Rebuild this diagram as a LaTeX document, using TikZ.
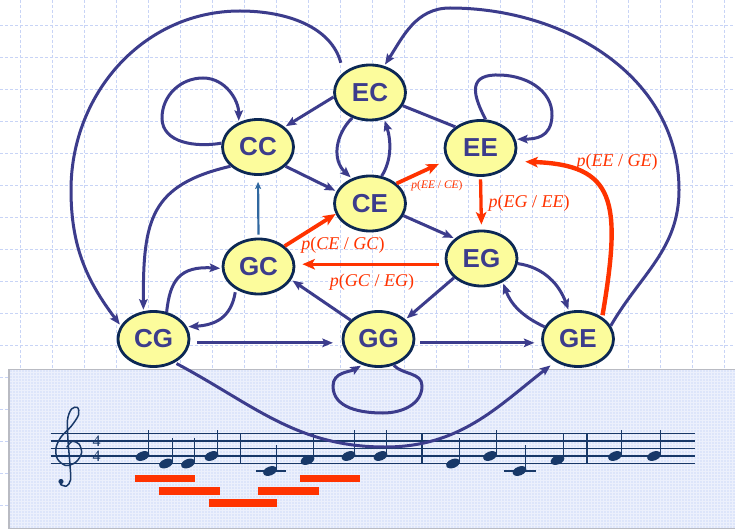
\documentclass[tikz,border=0pt]{standalone}
\usepackage{fontspec}
\setmainfont{Liberation Serif}
\newfontfamily\statefont{Liberation Sans}
\usetikzlibrary{shapes.geometric,arrows.meta}

\definecolor{edgeblue}{RGB}{60,60,140}
\definecolor{nodeborder}{RGB}{12,40,84}
\definecolor{nodefill}{RGB}{252,252,156}
\definecolor{statetext}{RGB}{60,60,140}
\definecolor{probred}{RGB}{255,51,0}
\definecolor{gridblue}{RGB}{200,212,246}
\definecolor{staffblue}{RGB}{24,56,104}
\definecolor{boxfill}{RGB}{221,229,250}
\definecolor{boxline}{RGB}{185,187,195}
\definecolor{linkblue}{RGB}{48,104,160}

% conditional probability label p(A / B)
\newcommand{\pcond}[2]{\textit{p}(\textit{#1}\ /\ \textit{#2})}

\tikzset{
  state/.style={ellipse, draw=nodeborder, line width=2.8pt, fill=nodefill,
    minimum width=71pt, minimum height=55pt, inner sep=0pt, text=statetext,
    font=\statefont\bfseries\fontsize{26}{26}\selectfont},
  trans/.style={draw=edgeblue, line width=3pt, shorten >=1.5pt,
    -{Stealth[length=10.5pt,width=8.5pt,inset=2pt]}},
  plainlink/.style={draw=edgeblue, line width=3pt},
  hot/.style={draw=probred, line width=3.8pt,
    -{Stealth[length=12.5pt,width=10.5pt,inset=3pt]}},
  plabel/.style={text=probred, inner sep=0pt, font=\fontsize{18}{18}\selectfont},
  gridline/.style={draw=gridblue, line width=0.9pt, dash pattern=on 3pt off 2pt},
  staffline/.style={draw=staffblue, line width=1.4pt},
  redbar/.style={fill=probred},
  timesig/.style={text=staffblue, inner sep=0pt, font=\fontsize{16}{16}\selectfont},
}

% quarter note with stem up, head centred at (#1, -#2)
\newcommand{\staffnote}[2]{%
  \fill[staffblue, rotate around={22:(#1,-#2)}] (#1,-#2) ellipse [x radius=7.2, y radius=4.4];
  \draw[staffblue, line width=1.3pt] (#1+6.3,-#2+1.5) -- (#1+6.3,-#2+26);}

\begin{document}
\begin{tikzpicture}[x=1pt,y=1pt]
\useasboundingbox (0,0) rectangle (735,-529);
\fill[white] (0,0) rectangle (735,-529);

% background grid
\foreach \k in {0,...,22} { \draw[gridline] ({20.5+32*\k},0) -- ({20.5+32*\k},-529); }
\foreach \k in {0,...,16} { \draw[gridline] (0,{-25.8-32*\k}) -- (735,{-25.8-32*\k}); }

% music panel
\fill[boxfill] (9,-369.5) rectangle (745,-528.3);
\draw[white, opacity=0.45, line width=0.5pt, step=3] (9,-369.5) grid (745,-528.3);
\draw[boxline, line width=1.6pt] (745,-369.5) -- (9,-369.5) -- (9,-528.3) -- (745,-528.3);

% staff
\foreach \k in {0,...,4} { \draw[staffline] (50.6,{-433.5-7.5*\k}) -- (695,{-433.5-7.5*\k}); }
\foreach \bx in {240.5,422,587} { \draw[staffline] (\bx,-433.5) -- (\bx,-463.5); }

% treble clef
\draw[staffblue, line width=1.5pt, line cap=round, line join=round]
  plot[smooth, tension=0.55] coordinates {(67,-447) (72,-441.5) (79,-444) (81.5,-453) (76,-462)
  (66,-465.5) (57.5,-459) (56,-448) (61,-437) (71,-426.5) (78.5,-415) (77.5,-407.5) (71.5,-409)
  (67.5,-420) (68,-440) (70,-465) (70.5,-480) (66.5,-486) (60.5,-484.5)};
\fill[staffblue] (61,-481.5) circle (2.6);

% time signature
\node[timesig] (tsup) at (96.7,-441) {4};
\node[timesig] (tslow) at (96.7,-456.3) {4};

% ledger lines
\draw[staffline] (255.5,-471) -- (286,-471);
\draw[staffline] (504,-471) -- (535.5,-471);

% notes
\staffnote{142.5}{456}
\staffnote{166}{463.5}
\staffnote{188}{463.5}
\staffnote{211.5}{456}
\staffnote{270}{471}
\staffnote{307.5}{460}
\staffnote{348.5}{456}
\staffnote{380.5}{456}
\staffnote{453}{463.5}
\staffnote{490}{456}
\staffnote{519.5}{471}
\staffnote{557.5}{460}
\staffnote{615}{456}
\staffnote{654}{456}

% bigram bars
\fill[redbar] (134.5,-475) rectangle (194.5,-482.3);
\fill[redbar] (159.4,-487.3) rectangle (220.3,-494.7);
\fill[redbar] (208.6,-499.3) rectangle (276.6,-506.7);
\fill[redbar] (257.8,-487.3) rectangle (318.8,-494.7);
\fill[redbar] (300,-475) rectangle (360,-482.3);

% states
\node[state] (EC) at (370,-92.5) {EC};
\node[state] (CC) at (258,-147) {CC};
\node[state] (EE) at (480.5,-148) {EE};
\node[state] (CE) at (370,-203.5) {CE};
\node[state] (GC) at (258.5,-266.5) {GC};
\node[state] (EG) at (481.5,-258.5) {EG};
\node[state] (CG) at (153.5,-339) {CG};
\node[state] (GG) at (378.5,-339) {GG};
\node[state] (GE) at (578,-339) {GE};

% transitions
\draw[trans] (EC.187) -- (CC.37);
\draw[trans] (CC.174) to[out=190,in=270] (162,-118) to[out=90,in=180] (203,-78) to[out=0,in=90] (CC.128);
\draw[trans] (EC.235) .. controls (335,-135) and (332,-160) .. (CE.126);
\draw[trans] (CE.67) .. controls (392,-160) and (391,-140) .. (EC.298);
\draw[plainlink] (EC.338) -- (EE.140);
\draw[trans] (EE.80) .. controls (474,-97) and (467,-76) .. (495,-75)
  .. controls (525,-74) and (553,-90) .. (552,-116)
  .. controls (551,-138) and (535,-139) .. (EE.14);
\draw[trans] (CC.325) -- (CE.160);
\draw[trans] (CE.340) -- (EG.143);
\draw[draw=linkblue, line width=2.2pt, shorten <=3pt, shorten >=6pt,
  -{Stealth[length=7pt,width=6pt,inset=1.5pt]}] (GC.north) -- (CC.south);
\draw[trans, shorten <=10pt] (EC.143) to[out=105,in=0] (240,-11) to[out=180,in=90] (71,-190) to[out=-90,in=127] (CG.158);
\draw[trans] (GE.22) to[out=60,in=-90] (679,-190) to[out=90,in=0] (450,-8) to[out=180,in=57] (EC.62);
\draw[trans] (CC.215) .. controls (150,-185) and (143,-220) .. (CG.110);
\draw[trans] (CG.64) .. controls (170,-280) and (180,-266) .. (GC.183);
\draw[trans, shorten <=3pt] (GC.225) .. controls (231,-318) and (215,-325) .. (CG.20);
\draw[trans] (GG.146) -- (GC.338);
\draw[trans] (EG.215) -- (GG.36);
\draw[trans] (EG.352) to[out=-8,in=110] (GE.108);
\draw[trans] (GE.160) to[out=155,in=-70] (EG.312);
\draw[trans, shorten <=7pt, shorten >=9pt] (CG.354) -- (GG.186);
\draw[trans, shorten <=5pt, shorten >=7pt] (GG.354) -- (GE.186);
\draw[trans, shorten <=2pt, shorten >=6pt] (CG.312) to[out=-28,in=180] (385,-447) to[out=0,in=218] (GE.225);
\draw[trans] (GG.300) to[out=-45,in=90] (422,-386) to[out=-90,in=0] (383,-413)
  to[out=180,in=-90] (333,-386) to[out=90,in=210] (GG.238);

% probability-weighted transitions
\draw[hot, shorten >=9pt] (CE.37) -- (EE.200);
\draw[hot, line width=3.3pt, shorten <=2.5pt, shorten >=5pt] (EE.south) -- (EG.north);
\draw[hot] (GC.38) -- (CE.197);
\draw[hot, line width=3.3pt, shorten <=6pt, shorten >=7pt] (EG.189) -- (GC.east |- EG.189);
\draw[hot, line width=4.4pt, shorten <=2pt, shorten >=12pt] (GE.42) .. controls (622,-200) and (615,-165) .. (EE.338);

% labels
\node[plabel, font=\fontsize{11.5}{11.5}\selectfont] (lEECE) at (437,-186) {\pcond{EE}{CE}};
\node[plabel] (lEGEE) at (529,-203) {\pcond{EG}{EE}};
\node[plabel] (lCEGC) at (343,-245) {\pcond{CE}{GC}};
\node[plabel] (lGCEG) at (372,-282) {\pcond{GC}{EG}};
\node[plabel] (lEEGE) at (617,-162) {\pcond{EE}{GE}};
\end{tikzpicture}
\end{document}
